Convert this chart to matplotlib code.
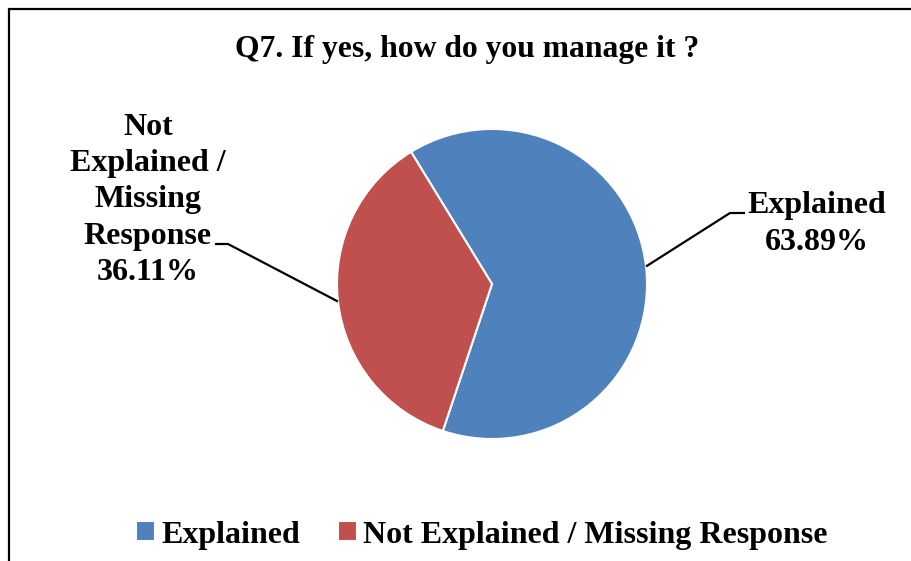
import numpy as np
import matplotlib
matplotlib.use("Agg")
import matplotlib.pyplot as plt
from matplotlib.patches import Rectangle

title = "Q7. If yes, how do you manage it ?"
categories = ["Explained", "Not Explained / Missing Response"]
values = [63.89, 36.11]
label_texts = ["Explained\n63.89%", "Not\nExplained /\nMissing\nResponse\n36.11%"]
colors = ["#4F81BD", "#C0504D"]

plt.rcParams['font.family'] = ['Liberation Serif', 'DejaVu Serif']
plt.rcParams['font.weight'] = 'bold'

W, H = 912, 561
fig = plt.figure(figsize=(W / 100, H / 100), dpi=100)

# figure frame (right and bottom edges cut off)
fig.patches.append(Rectangle((9 / W, -0.1), 1.2, (H - 8.5) / H + 0.1, transform=fig.transFigure,
                             fill=False, edgecolor='black', linewidth=1.6))

cx, cy, r = 492, 284, 155
ax = fig.add_axes([(cx - r) / W, (H - cy - r) / H, 2 * r / W, 2 * r / H])
start = 121.5
wedges, _ = ax.pie(values, colors=colors, startangle=start, counterclock=False,
                   radius=1.0, wedgeprops=dict(edgecolor='white', linewidth=1.5))
ax.set_xlim(-1, 1)
ax.set_ylim(-1, 1)
ax.set_aspect('equal')
ax.axis('off')

def to_data(px, py):
    return (px - cx) / r, (cy - py) / r

# label placement (pixels): text center, elbow, end of horizontal
label_pos = [(817, 224), (148, 200)]
elbows = [((730, 213), (745, 213)), ((228, 244), (215, 244))]
total = sum(values)
acc = 0
for i, v in enumerate(values):
    mid = start - (acc + v / 2) / total * 360
    acc += v
    mx, my = np.cos(np.radians(mid)), np.sin(np.radians(mid))
    e1 = to_data(*elbows[i][0])
    e2 = to_data(*elbows[i][1])
    ax.plot([mx, e1[0], e2[0]], [my, e1[1], e2[1]], color='black', lw=1.6,
            clip_on=False, solid_capstyle='butt')
    tx, ty = to_data(*label_pos[i])
    ax.text(tx, ty, label_texts[i], ha='center', va='center', fontsize=23,
            fontweight='bold', linespacing=1.33, clip_on=False)

fig.text(467 / W, 1 - 49 / H, title, ha='center', va='center', fontsize=22.8, fontweight='bold')

# legend
leg = fig.legend(wedges, categories, loc='center', bbox_to_anchor=(482 / W, 1 - 535 / H),
                 ncol=2, frameon=False, prop=dict(size=23, weight='bold'),
                 handlelength=0.58, handleheight=0.58, handletextpad=0.2, columnspacing=1.2)

fig.savefig("out.png", dpi=100)
